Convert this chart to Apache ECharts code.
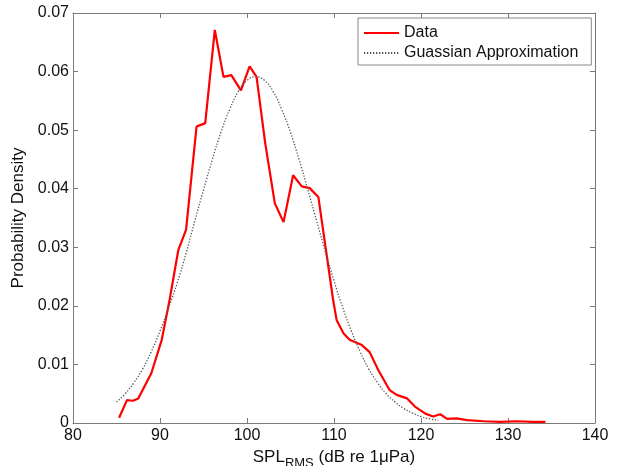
<!DOCTYPE html>
<html>
<head>
<meta charset="utf-8">
<script src="https://cdn.jsdelivr.net/npm/echarts@6/dist/echarts.min.js"></script>
<style>
html,body{margin:0;padding:0;background:#fff;}
#chart{width:621px;height:466px;}
</style>
</head>
<body>
<div id="chart"></div>
<script>
// Measured data (red line)
var dataX = [85.3, 86.2, 86.9, 87.5, 89.0, 90.2, 91.1, 92.1, 93.0, 94.2, 95.2, 96.3, 97.3, 98.2, 99.3, 100.3, 101.1, 102.1, 103.2, 104.2, 105.3, 106.3, 107.2, 108.2, 109.9, 110.3, 111.1, 111.8, 113.2, 114.1, 115.1, 116.4, 117.2, 118.4, 119.3, 120.5, 121.4, 122.2, 123.0, 124.1, 125.3, 127.2, 129.1, 131.0, 132.9, 134.3];
var dataY = [0.0009, 0.0039, 0.0038, 0.0042, 0.0085, 0.0142, 0.0210, 0.0295, 0.0330, 0.0506, 0.0512, 0.0671, 0.0591, 0.0594, 0.0568, 0.0609, 0.0591, 0.0477, 0.0375, 0.0343, 0.0423, 0.0404, 0.0401, 0.0386, 0.0210, 0.0176, 0.0153, 0.0142, 0.0133, 0.0121, 0.0090, 0.0056, 0.0048, 0.0042, 0.0028, 0.0016, 0.0011, 0.0015, 0.0007, 0.0008, 0.0005, 0.0003, 0.0002, 0.0003, 0.0002, 0.0002];
// Gaussian approximation (dotted line)
var gaussX = [85, 86, 87, 88, 89, 90, 91, 92, 93, 94, 95, 96, 97, 98, 99, 100, 101, 102, 103, 104, 105, 106, 107, 108, 109, 110, 111, 112, 113, 114, 115, 116, 117, 118, 119, 120, 121, 122];
var gaussY = [0.0036, 0.0050, 0.0069, 0.0092, 0.0122, 0.0157, 0.0197, 0.0240, 0.0290, 0.0345, 0.0398, 0.0449, 0.0496, 0.0535, 0.0566, 0.0585, 0.0591, 0.0585, 0.0566, 0.0535, 0.0496, 0.0449, 0.0398, 0.0345, 0.0293, 0.0243, 0.0197, 0.0157, 0.0122, 0.0092, 0.0069, 0.0050, 0.0036, 0.0025, 0.0017, 0.0011, 0.0007, 0.0005];
var seriesNames = ['Data', 'Guassian Approximation'];
var xTicks = [80, 140, 10];
var yTicks = [0, 0.07, 0.01];

function pairs(xs, ys) { return xs.map(function (x, i) { return [x, ys[i]]; }); }

var FONT = '"Liberation Sans", Arial, Helvetica, sans-serif';
var AXC = '#7a7a7a';
var chart = echarts.init(document.getElementById('chart'), null, {renderer: 'canvas'});
var tickCommon = {show: true, inside: true, length: 5, lineStyle: {color: AXC, width: 1}};
chart.setOption({
  animation: false,
  backgroundColor: '#fff',
  textStyle: {fontFamily: FONT},
  grid: {left: 73, right: 26, top: 13, bottom: 43, containLabel: false, outerBoundsMode: 'none'},
  legend: {
    data: seriesNames,
    orient: 'vertical',
    left: 358, top: 18,
    padding: [7, 13, 4, 5],
    itemGap: 4,
    itemWidth: 35, itemHeight: 16,
    borderColor: '#888', borderWidth: 1,
    backgroundColor: '#fff',
    itemStyle: {opacity: 0},
    textStyle: {fontFamily: FONT, fontSize: 16, color: '#111'}
  },
  xAxis: [{
    type: 'value', min: xTicks[0], max: xTicks[1], interval: xTicks[2],
    position: 'bottom',
    axisLine: {show: true, onZero: false, lineStyle: {color: AXC, width: 1}},
    axisTick: tickCommon,
    splitLine: {show: false},
    axisLabel: {color: '#111', fontSize: 16, margin: 5, fontFamily: FONT},
    name: '{a|SPL}{s|RMS}{a| (dB re 1\u03bcPa)}',
    nameLocation: 'middle', nameGap: 16,
    nameTextStyle: {
      fontFamily: FONT, color: '#111',
      rich: {
        a: {fontSize: 17, fontFamily: FONT, color: '#111', lineHeight: 18, verticalAlign: 'top'},
        s: {fontSize: 13, fontFamily: FONT, color: '#111', lineHeight: 18, padding: [8, 0, 0, 0], verticalAlign: 'top'}
      }
    }
  }, {
    type: 'value', min: xTicks[0], max: xTicks[1], interval: xTicks[2],
    position: 'top',
    axisLine: {show: true, onZero: false, lineStyle: {color: AXC, width: 1}},
    axisTick: tickCommon,
    splitLine: {show: false},
    axisLabel: {show: false}
  }],
  yAxis: [{
    type: 'value', min: yTicks[0], max: yTicks[1], interval: yTicks[2],
    position: 'left',
    axisLine: {show: true, onZero: false, lineStyle: {color: AXC, width: 1}},
    axisTick: tickCommon,
    splitLine: {show: false},
    axisLabel: {color: '#111', fontSize: 16, margin: 4, fontFamily: FONT,
      formatter: function (v) { return v === 0 ? '0' : v.toFixed(2); }},
    name: 'Probability Density',
    nameLocation: 'middle', nameGap: 42, nameRotate: 90,
    nameTextStyle: {fontFamily: FONT, fontSize: 17, color: '#111'}
  }, {
    type: 'value', min: yTicks[0], max: yTicks[1], interval: yTicks[2],
    position: 'right',
    axisLine: {show: true, onZero: false, lineStyle: {color: AXC, width: 1}},
    axisTick: tickCommon,
    splitLine: {show: false},
    axisLabel: {show: false}
  }],
  series: [{
    name: seriesNames[0], type: 'line', xAxisIndex: 0, yAxisIndex: 0,
    data: pairs(dataX, dataY),
    showSymbol: false, symbol: 'none', smooth: false, z: 3,
    lineStyle: {color: '#ff0000', width: 2.2},
    itemStyle: {color: '#ff0000'}
  }, {
    name: seriesNames[1], type: 'line', xAxisIndex: 0, yAxisIndex: 0,
    data: pairs(gaussX, gaussY),
    showSymbol: false, symbol: 'none', smooth: true, z: 4,
    lineStyle: {color: '#555555', width: 1.3, type: [1.3, 1.7]},
    itemStyle: {color: '#555555'}
  }]
});
</script>
</body>
</html>
